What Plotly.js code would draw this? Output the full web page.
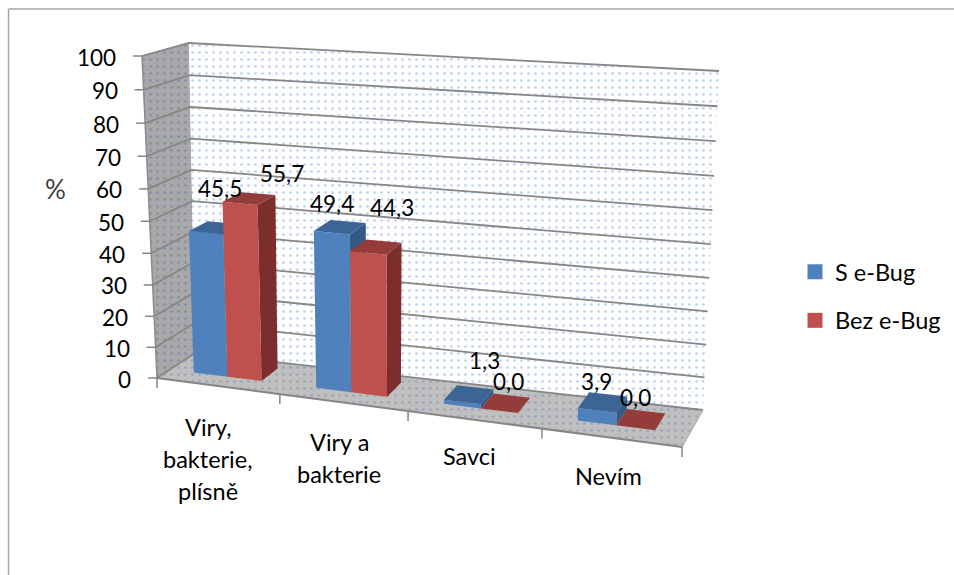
<!DOCTYPE html>
<html>
<head>
<meta charset="utf-8">
<script src="https://cdn.plot.ly/plotly-3.0.1.min.js"></script>
<style>html,body{margin:0;padding:0;background:#fff}</style>
</head>
<body>
<div id="chart" style="width:954px;height:575px"></div>
<script>
// Survey answers, percent of respondents per group
const categories = [['Viry,', 'bakterie,', 'plísně'], ['Viry a', 'bakterie'], ['Savci'], ['Nevím']];
const seriesNames = ['S e-Bug', 'Bez e-Bug'];
const sEBug = [45.5, 49.4, 1.3, 3.9];
const bezEBug = [55.7, 44.3, 0.0, 0.0];
const valueTicks = [0, 10, 20, 30, 40, 50, 60, 70, 80, 90, 100];

// Face colours per series: front, side, top
const faceColors = [
  {front: '#4f81bd', side: '#315a88', top: '#3c6595'},
  {front: '#c0504d', side: '#7b2e2c', top: '#943c3a'}
];
const FONT = 'Lato, Carlito, sans-serif';
const TEXT_SIZE = 23.5;
const NUMBER_SIZE = 22.5;

// Perspective frame of the 3-D box: corners of the front and back planes
// listed as (left,0) (right,0) (right,100) (left,100)
const frontPlane = [[157, 378], [682, 447], [697, 98], [142, 56]];
const backPlane = [[195, 353], [703, 410], [719, 71], [189, 43]];

function homography(q) {
  const [p0, p1, p2, p3] = q;
  const dx1 = p1[0] - p2[0], dx2 = p3[0] - p2[0], sx = p0[0] - p1[0] + p2[0] - p3[0];
  const dy1 = p1[1] - p2[1], dy2 = p3[1] - p2[1], sy = p0[1] - p1[1] + p2[1] - p3[1];
  const den = dx1 * dy2 - dx2 * dy1;
  const g = (sx * dy2 - dx2 * sy) / den, h = (dx1 * sy - sx * dy1) / den;
  const a = p1[0] - p0[0] + g * p1[0], b = p3[0] - p0[0] + h * p3[0], c = p0[0];
  const d = p1[1] - p0[1] + g * p1[1], e = p3[1] - p0[1] + h * p3[1], f = p0[1];
  return (u, t) => {
    const m = g * u + h * t + 1;
    return [(a * u + b * t + c) / m, (d * u + e * t + f) / m];
  };
}
const frontMap = homography(frontPlane);
const backMap = homography(backPlane);

// u: 0..1 along the categories, value: 0..100, w: 0 front .. 1 back
function project(u, value, w) {
  const t = value / 100;
  const p = frontMap(u, t), q = backMap(u, t);
  return [p[0] + (q[0] - p[0]) * w, p[1] + (q[1] - p[1]) * w];
}

function polyTrace(points, fill, extra) {
  const xs = [], ys = [];
  points.forEach(poly => {
    poly.forEach(p => { xs.push(p[0]); ys.push(p[1]); });
    xs.push(poly[0][0], null); ys.push(poly[0][1], null);
  });
  return Object.assign({
    type: 'scatter', mode: 'lines', x: xs, y: ys, fill: 'toself', fillcolor: fill,
    line: {width: 0, color: fill}, hoverinfo: 'skip', showlegend: false
  }, extra || {});
}
function lineTrace(segments, color, width) {
  const xs = [], ys = [];
  segments.forEach(s => {
    s.forEach(p => { xs.push(p[0]); ys.push(p[1]); });
    xs.push(null); ys.push(null);
  });
  return {type: 'scatter', mode: 'lines', x: xs, y: ys,
    line: {color: color, width: width}, hoverinfo: 'skip', showlegend: false};
}

const traces = [];

// Walls and floor, all with the small dotted fill
const dots = (bg, fg, size, solidity) => ({fillpattern: {shape: '.', bgcolor: bg, fgcolor: fg, size: size, solidity: solidity}});
traces.push(polyTrace([[project(0, 0, 0), project(0, 0, 1), project(0, 100, 1), project(0, 100, 0)]], '#a8a8a8',
  dots('#a8a8a8', '#7f8fa8', 7, 0.12)));
traces.push(polyTrace([[project(0, 0, 1), project(1, 0, 1), project(1, 100, 1), project(0, 100, 1)]], '#ffffff',
  dots('#ffffff', '#bcd0ee', 7, 0.12)));
traces.push(polyTrace([[project(0, 0, 0), project(1, 0, 0), project(1, 0, 1), project(0, 0, 1)]], '#bfbfbf',
  dots('#bfbfbf', '#97a4ba', 7, 0.12)));

// Gridlines run along the side wall and across the back wall
const grid = valueTicks.map(v => [project(0, v, 0), project(0, v, 1), project(1, v, 1)]);
traces.push(lineTrace(grid, '#868686', 1.8));
traces.push(lineTrace([[project(0, 0, 0), project(0, 100, 0), project(0, 100, 1)]], '#8c8c8c', 1.5));
traces.push(lineTrace([[project(0, 0, 0), project(1, 0, 0)]], '#868686', 2));
traces.push(lineTrace([[project(1, 0, 0), project(1, 0, 1)]], '#b5b5b5', 1.5));

// Axis tick marks
const tickPix = v => project(0, v, 0);
traces.push(lineTrace(valueTicks.map(v => { const p = tickPix(v); return [[p[0] - 9, p[1]], p]; }), '#868686', 1.5));
const catTicks = [0, 1, 2, 3, 4].map(k => { const p = project(k / 4, 0, 0); return [p, [p[0], p[1] + 10]]; });
traces.push(lineTrace(catTicks, '#868686', 1.5));

// Bars: each category slot holds two touching boxes, centred in width and depth
const BAR_INSET = 0.22, BAR_SHIFT = -0.005, W_FRONT = 0.34, W_BACK = 0.8;
const seriesValues = [sEBug, bezEBug];
const barEdge = (k, s, side) => {
  const inner = 0.5 - BAR_INSET;
  return (k + BAR_INSET + (s + side) * inner) / categories.length + BAR_SHIFT;
};
seriesValues.forEach((vals, s) => {
  const fronts = [], sides = [], tops = [];
  vals.forEach((v, k) => {
    const u0 = barEdge(k, s, 0), u1 = barEdge(k, s, 1);
    fronts.push([project(u0, 0, W_FRONT), project(u1, 0, W_FRONT), project(u1, v, W_FRONT), project(u0, v, W_FRONT)]);
    sides.push([project(u1, 0, W_FRONT), project(u1, 0, W_BACK), project(u1, v, W_BACK), project(u1, v, W_FRONT)]);
    tops.push([project(u0, v, W_FRONT), project(u1, v, W_FRONT), project(u1, v, W_BACK), project(u0, v, W_BACK)]);
  });
  traces.push(polyTrace(sides, faceColors[s].side));
  traces.push(polyTrace(fronts, faceColors[s].front));
  traces.push(polyTrace(tops, faceColors[s].top));
});

// Legend entries
seriesNames.forEach((name, s) => {
  traces.push({type: 'scatter', mode: 'markers', x: [null], y: [null], name: name, legendgroup: name,
    marker: {symbol: 'square', size: 15, color: faceColors[s].front}, hoverinfo: 'skip'});
});

// Text
const annotations = [];
const note = (x, y, text, opts) => annotations.push(Object.assign({
  xref: 'x', yref: 'y', x: x, y: y, text: text, showarrow: false,
  font: {family: FONT, size: TEXT_SIZE, color: '#000000'}, xanchor: 'center', yanchor: 'middle'
}, opts || {}));
const numberFont = {family: FONT, size: NUMBER_SIZE, color: '#000000'};

valueTicks.forEach(v => {
  const p = tickPix(v);
  note(p[0] - 24, p[1] + 1, String(v), {xanchor: 'right', font: numberFont});
});

// Category labels hang below the front floor edge
const labelAnchors = [[208, 427], [339, 442], [469, 456], [608, 476]];
categories.forEach((lines, k) => {
  lines.forEach((line, i) => note(labelAnchors[k][0], labelAnchors[k][1] + i * 32, line));
});

// Value labels sit above the top of their box
const labelShift = [
  [[5, -39], [-8, -24], [16, -34], [-6, -21]],
  [[33, -25], [16, -39], [3, -22], [-5, -22]]
];
seriesValues.forEach((vals, s) => {
  vals.forEach((v, k) => {
    const u = (barEdge(k, s, 0) + barEdge(k, s, 1)) / 2;
    const p = project(u, v, (W_FRONT + W_BACK) / 2);
    note(p[0] + labelShift[s][k][0], p[1] + labelShift[s][k][1], v.toFixed(1).replace('.', ','), {font: numberFont});
  });
});

note(55, 189, '%', {font: {family: FONT, size: 26, color: '#404040'}});

const layout = {
  width: 954, height: 575,
  margin: {l: 0, r: 0, t: 0, b: 0},
  paper_bgcolor: '#ffffff', plot_bgcolor: '#ffffff',
  xaxis: {range: [0, 954], visible: false, fixedrange: true},
  yaxis: {range: [575, 0], visible: false, fixedrange: true},
  showlegend: true,
  legend: {x: 795 / 954, xanchor: 'left', y: 1 - 250 / 575, yanchor: 'top', traceorder: 'grouped',
    tracegroupgap: 15, bgcolor: 'rgba(0,0,0,0)', font: {family: FONT, size: TEXT_SIZE, color: '#000000'}},
  // Outer chart frame, open on the right and at the bottom
  shapes: [
    {type: 'line', xref: 'x', yref: 'y', x0: 8.5, y0: 9, x1: 954, y1: 9, line: {color: '#a6a6a6', width: 1.5}},
    {type: 'line', xref: 'x', yref: 'y', x0: 8.5, y0: 9, x1: 8.5, y1: 575, line: {color: '#a6a6a6', width: 1.5}}
  ],
  annotations: annotations
};
Plotly.newPlot('chart', traces, layout, {displayModeBar: false, staticPlot: true});
</script>
</body>
</html>
